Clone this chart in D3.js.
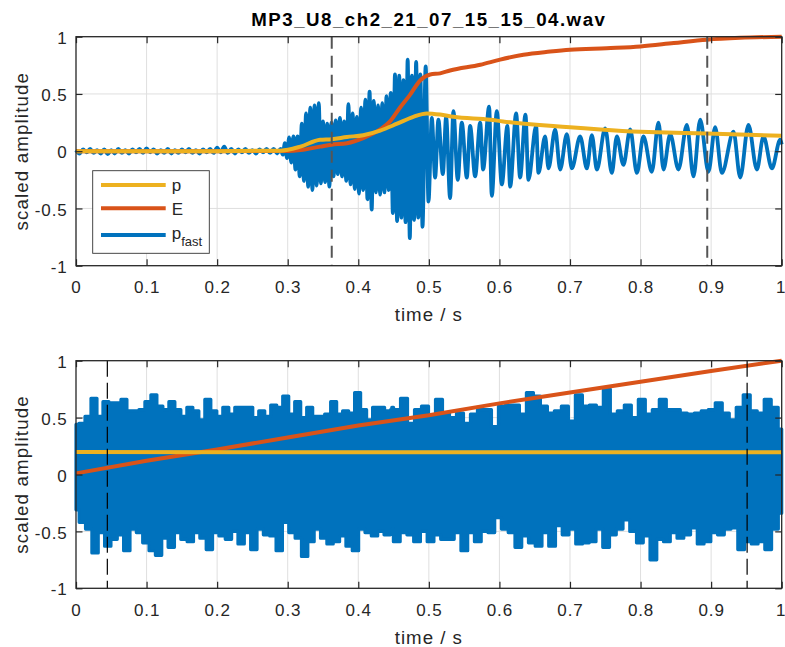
<!DOCTYPE html>
<html><head><meta charset="utf-8">
<script src="https://cdn.jsdelivr.net/npm/d3@7/dist/d3.min.js"></script>
<style>
html,body{margin:0;padding:0;background:#fff;}
svg{display:block;font-family:"Liberation Sans",Arial,Helvetica,sans-serif;}
</style></head><body>
<svg id="chart" width="785" height="647"></svg>
<script>
// ---------------- DATA ----------------
const titleText = "MP3_U8_ch2_21_07_15_15_04.wav";
const xLabelText = "time / s";
const yLabelText = "scaled amplitude";
const xTicks = [0, 0.1, 0.2, 0.3, 0.4, 0.5, 0.6, 0.7, 0.8, 0.9, 1];
const xTickLabels = ["0", "0.1", "0.2", "0.3", "0.4", "0.5", "0.6", "0.7", "0.8", "0.9", "1"];
const yTicks = [-1, -0.5, 0, 0.5, 1];
const yTickLabels = ["-1", "-0.5", "0", "0.5", "1"];
const legendNames = ["p", "E", "p_fast"];

// Top panel: p_fast, quiet part (sample step 0.005 s from 0)
const topNoiseStart = 0, topNoiseStep = 0.005;
const topNoiseV = [0.01,-0.02,0.015,-0.01,0.02,-0.015,0.01,-0.02,0.015,-0.025,
  0.01,-0.02,0.02,-0.015,0.01,-0.02,0.015,-0.01,0.02,-0.015,
  0.025,-0.01,0.015,-0.02,0.01,-0.015,0.02,-0.02,0.01,-0.015,
  0.015,-0.01,0.02,-0.015,0.01,-0.02,0.015,-0.01,0.02,-0.015,
  0.03,-0.01,0.04,-0.015,0.02,-0.02,0.015,-0.01,0.02,-0.015,
  0.01,-0.02,0.015,-0.01,0.02,-0.015,0.02,-0.02];
// Top panel: p_fast, burst extrema (step 0.003 s from 0.29 s)
const topBurstStart = 0.29, topBurstStep = 0.003;
const topBurstV = [0.02,-0.03,0.07,-0.06,0.12,-0.10,0.13,-0.16,0.13,-0.22,
  0.24,-0.26,0.33,-0.31,0.38,-0.34,0.40,-0.30,0.42,-0.28,
  0.26,-0.27,0.24,-0.31,0.25,-0.22,0.27,-0.20,0.29,-0.22,
  0.26,-0.26,0.41,-0.29,0.33,-0.33,0.30,-0.37,0.38,-0.34,
  0.45,-0.42,0.52,-0.51,0.44,-0.36,0.40,-0.38,0.42,-0.36,
  0.48,-0.34,0.51,-0.54,0.67,-0.61,0.66,-0.58,0.62,-0.62,
  0.80,-0.76,0.66,-0.60,0.78,-0.58,0.67,-0.66];
// Top panel: p_fast, decaying oscillation extrema
const topTailT = [0.4955,0.4995,0.5042,0.5089,0.5135,0.5198,0.5245,0.5301,0.5348,0.5410,
  0.5467,0.5538,0.5585,0.5656,0.5727,0.5769,0.5854,0.5892,0.5963,0.6034,
  0.6113,0.6152,0.6237,0.6293,0.6369,0.6411,0.6520,0.6553,0.6648,0.6695,
  0.6790,0.6861,0.6955,0.7026,0.7144,0.7239,0.7310,0.7381,0.7498,0.7593,
  0.7664,0.7757,0.7853,0.7948,0.8041,0.8160,0.8254,0.8325,0.8420,0.8537,
  0.8656,0.8750,0.8845,0.8962,0.9057,0.9152,0.9317,0.9412,0.9529,0.9648,
  0.9742,0.9861,0.9979,1.0];
const topTailV = [0.74,-0.44,0.29,-0.23,0.275,-0.20,0.30,-0.41,0.35,-0.25,
  0.25,-0.23,0.22,-0.22,0.25,-0.16,0.39,-0.39,0.35,-0.29,
  0.22,-0.31,0.33,-0.23,0.32,-0.25,0.22,-0.19,0.13,-0.15,
  0.19,-0.16,0.15,-0.15,0.13,-0.15,0.14,-0.16,0.20,-0.19,
  0.13,-0.12,0.19,-0.19,0.13,-0.18,0.25,-0.16,0.15,-0.16,
  0.23,-0.22,0.275,-0.18,0.21,-0.19,0.17,-0.23,0.23,-0.16,
  0.13,-0.15,0.10,0.06];
// Top panel: p (slow) and E
const topPT = [0,0.1,0.2,0.29,0.318,0.346,0.362,0.384,0.407,0.431,0.455,0.478,0.497,0.516,0.535,0.587,0.605,0.676,0.70,0.743,0.80,0.823,0.894,1.0];
const topPV = [0,0,0,0.005,0.04,0.10,0.105,0.124,0.14,0.18,0.24,0.30,0.33,0.32,0.30,0.275,0.26,0.22,0.21,0.19,0.17,0.165,0.155,0.135];
const topET = [0,0.2,0.3,0.318,0.346,0.362,0.384,0.407,0.431,0.445,0.459,0.473,0.488,0.502,0.516,0.530,0.573,0.601,0.634,0.672,0.70,0.752,0.80,0.847,0.894,0.941,1.0];
const topEV = [0,0,0.002,0.01,0.04,0.057,0.07,0.115,0.19,0.26,0.38,0.49,0.62,0.67,0.68,0.705,0.755,0.80,0.843,0.87,0.886,0.90,0.915,0.945,0.974,0.99,1.0];
const topMarks = [0.3624, 0.8945];

// Bottom panel: p_fast envelope (upper / lower extremes), two segments each
const botUpperA = {t0:0, t1:0.45, v:[0.44,0.45,0.51,0.67,0.51,0.64,0.63,0.63,0.66,0.56,
  0.56,0.57,0.64,0.70,0.60,0.57,0.64,0.57,0.51,0.59,
  0.56,0.48,0.66,0.56,0.51,0.59,0.53,0.59,0.59,0.59,
  0.50,0.56,0.51,0.61,0.59,0.69,0.53,0.64,0.50,0.59,
  0.51,0.51,0.53,0.64,0.53,0.56,0.54,0.72,0.57,0.48,
  0.59,0.59,0.56,0.57]};
const botUpperB = {t0:0.445, t1:1.0, v:[0.59,0.57,0.67,0.45,0.57,0.60,0.50,0.66,0.54,0.50,
  0.54,0.45,0.53,0.57,0.57,0.42,0.60,0.61,0.61,0.53,
  0.72,0.69,0.60,0.54,0.56,0.60,0.47,0.70,0.60,0.61,
  0.59,0.75,0.53,0.56,0.61,0.50,0.66,0.53,0.57,0.66,
  0.57,0.57,0.54,0.53,0.54,0.56,0.57,0.63,0.54,0.48,
  0.59,0.70,0.56,0.54,0.66,0.59,0.40]};
const botLowerA = {t0:0, t1:0.45, v:[-0.31,-0.42,-0.48,-0.69,-0.51,-0.63,-0.57,-0.53,-0.67,-0.48,
  -0.51,-0.60,-0.67,-0.71,-0.56,-0.64,-0.51,-0.57,-0.59,-0.51,
  -0.56,-0.66,-0.51,-0.54,-0.57,-0.50,-0.61,-0.51,-0.66,-0.48,
  -0.53,-0.54,-0.67,-0.42,-0.51,-0.56,-0.72,-0.59,-0.48,-0.56,
  -0.61,-0.59,-0.54,-0.63,-0.67,-0.48,-0.51,-0.54,-0.50,-0.53,
  -0.51]};
const botLowerB = {t0:0.445, t1:1.0, v:[-0.48,-0.59,-0.51,-0.53,-0.59,-0.50,-0.59,-0.53,-0.57,-0.57,
  -0.51,-0.67,-0.51,-0.59,-0.50,-0.51,-0.38,-0.48,-0.51,-0.64,
  -0.54,-0.60,-0.63,-0.51,-0.63,-0.45,-0.53,-0.48,-0.61,-0.60,
  -0.59,-0.48,-0.64,-0.53,-0.48,-0.40,-0.50,-0.60,-0.54,-0.75,
  -0.57,-0.59,-0.51,-0.56,-0.53,-0.47,-0.61,-0.59,-0.51,-0.53,
  -0.48,-0.47,-0.66,-0.59,-0.61,-0.59,-0.66,-0.48,-0.34]};
const botPT = [0, 0.25, 0.5, 0.75, 1];
const botPV = [0.197, 0.196, 0.195, 0.195, 0.195];
const botET = [0, 0.1, 0.2, 0.3, 0.4, 0.5, 0.6, 0.7, 0.8, 0.9, 1.0];
const botEV = [0.01, 0.12, 0.22, 0.325, 0.43, 0.52, 0.625, 0.72, 0.815, 0.91, 1.0];
const botMarks = [0.0444, 0.951];

// ---------------- DRAWING ----------------
const C = {blue:"#0072BD", orange:"#D95319", yellow:"#EDB120", axis:"#262626", grid:"#dfdfdf"};
const svg = d3.select("#chart");
const L = 76, R = 781.7;

const uniform = (t0, dt, vals) => vals.map((v, i) => [t0 + i * dt, v]);
const spanned = (seg) => seg.v.map((v, i) => [seg.t0 + i * (seg.t1 - seg.t0) / (seg.v.length - 1), v]);
const zipTV = (T, V) => T.map((t, i) => [t, V[i]]);

function panel(top, bottom, opts) {
  const x = d3.scaleLinear().domain([0, 1]).range([L, R]);
  const y = d3.scaleLinear().domain([-1, 1]).range([bottom, top]);
  const g = svg.append("g");

  // grid
  g.append("g").selectAll("line").data(xTicks.slice(1, -1)).join("line")
    .attr("x1", d => x(d)).attr("x2", d => x(d)).attr("y1", top).attr("y2", bottom)
    .attr("stroke", C.grid).attr("stroke-width", 1);
  g.append("g").selectAll("line").data(yTicks.slice(1, -1)).join("line")
    .attr("y1", d => y(d)).attr("y2", d => y(d)).attr("x1", L).attr("x2", R)
    .attr("stroke", C.grid).attr("stroke-width", 1);

  const line = d3.line().x(d => x(d[0])).y(d => y(d[1]));
  opts.draw(g, x, y, line);

  // dashed markers
  g.append("g").selectAll("line").data(opts.marks).join("line")
    .attr("x1", d => x(d)).attr("x2", d => x(d)).attr("y1", top).attr("y2", bottom)
    .attr("stroke", opts.markColor).attr("stroke-width", opts.markWidth)
    .attr("stroke-dasharray", opts.markDash);

  // axes (ticks inside, on all four sides)
  const fmtX = (d, i) => xTickLabels[i];
  const fmtY = (d, i) => yTickLabels[i];
  const ax = g.append("g").attr("transform", `translate(0,${bottom})`)
    .call(d3.axisBottom(x).tickValues(xTicks).tickFormat(fmtX).tickSize(-6.5).tickPadding(15.2));
  g.append("g").attr("transform", `translate(0,${top})`)
    .call(d3.axisTop(x).tickValues(xTicks).tickFormat("").tickSize(-6.5));
  const ay = g.append("g").attr("transform", `translate(${L},0)`)
    .call(d3.axisLeft(y).tickValues(yTicks).tickFormat(fmtY).tickSize(-6.5).tickPadding(8));
  g.append("g").attr("transform", `translate(${R},0)`)
    .call(d3.axisRight(y).tickValues(yTicks).tickFormat("").tickSize(-6.5));
  g.selectAll(".domain").remove();
  g.selectAll(".tick line").attr("stroke", C.axis).attr("stroke-width", 1.2);
  g.selectAll(".tick text").attr("fill", C.axis).attr("font-size", 17)
    .attr("font-family", '"Liberation Sans",Arial,sans-serif').attr("letter-spacing", 0.9);
  ay.selectAll(".tick text").attr("dy", "0.39em").attr("x", -8.3);
  // keep the last x label inside the page
  ax.selectAll(".tick text").filter((d, i) => i === xTicks.length - 1)
    .attr("letter-spacing", 0).attr("text-anchor", "end").attr("x", 3.2);
  g.append("rect").attr("x", L).attr("y", top).attr("width", R - L).attr("height", bottom - top)
    .attr("fill", "none").attr("stroke", C.axis).attr("stroke-width", 1.3);

  // axis labels
  g.append("text").attr("x", (L + R) / 2).attr("y", bottom + 55.5).attr("text-anchor", "middle")
    .attr("font-size", 18.7).attr("letter-spacing", 1).attr("fill", C.axis).text(xLabelText);
  g.append("text").attr("transform", `translate(28.4,${(top + bottom) / 2}) rotate(-90)`)
    .attr("text-anchor", "middle").attr("font-size", 18.7).attr("letter-spacing", 1.15)
    .attr("fill", C.axis).text(yLabelText);
  return {x, y, g};
}

// Top panel
panel(36.7, 265.7, {
  marks: topMarks, markColor: "#555555", markWidth: 2, markDash: "12 7",
  draw: (g, x, y, line) => {
    const blue = [].concat(uniform(topNoiseStart, topNoiseStep, topNoiseV),
                           uniform(topBurstStart, topBurstStep, topBurstV),
                           zipTV(topTailT, topTailV));
    g.append("path").datum(blue).attr("d", line.curve(d3.curveMonotoneX))
      .attr("fill", "none").attr("stroke", C.blue).attr("stroke-width", 3.8).attr("stroke-linejoin", "round");
    g.append("path").datum(zipTV(topET, topEV)).attr("d", line.curve(d3.curveMonotoneX))
      .attr("fill", "none").attr("stroke", C.orange).attr("stroke-width", 4);
    g.append("path").datum(zipTV(topPT, topPV)).attr("d", line.curve(d3.curveMonotoneX))
      .attr("fill", "none").attr("stroke", C.yellow).attr("stroke-width", 4);
  }
});

// Bottom panel
panel(360.7, 588.3, {
  marks: botMarks, markColor: "#000000", markWidth: 1.2, markDash: "16 6",
  draw: (g, x, y, line) => {
    const upper = spanned(botUpperA).concat(spanned(botUpperB));
    const lower = spanned(botLowerA).concat(spanned(botLowerB));
    const upPath = d3.line().x(d => x(d[0])).y(d => y(d[1])).curve(d3.curveStep)(upper);
    const loPts = lower.slice().reverse();
    const loPath = d3.line().x(d => x(d[0])).y(d => y(d[1])).curve(d3.curveStep)(loPts);
    const full = upPath + "L" + loPath.slice(1) + "Z";
    g.append("path").attr("d", full)
      .attr("fill", C.blue).attr("stroke", C.blue).attr("stroke-width", 3.2).attr("stroke-linejoin", "round");
    g.append("path").datum(zipTV(botET, botEV)).attr("d", line.curve(d3.curveLinear))
      .attr("fill", "none").attr("stroke", C.orange).attr("stroke-width", 4);
    g.append("path").datum(zipTV(botPT, botPV)).attr("d", line.curve(d3.curveLinear))
      .attr("fill", "none").attr("stroke", C.yellow).attr("stroke-width", 4);
  }
});

// Title
svg.append("text").attr("x", (L + R) / 2).attr("y", 26).attr("text-anchor", "middle")
  .attr("font-size", 18.7).attr("font-weight", "bold").attr("letter-spacing", 1.5)
  .attr("fill", "#000").text(titleText);

// Legend (top panel)
const leg = svg.append("g");
leg.append("rect").attr("x", 92.7).attr("y", 170.7).attr("width", 116.6).attr("height", 82.6)
  .attr("fill", "#fff").attr("stroke", "#333").attr("stroke-width", 0.9);
const legColors = [C.yellow, C.orange, C.blue];
const legY = [185, 208.3, 235];
legendNames.forEach((name, i) => {
  leg.append("line").attr("x1", 101).attr("x2", 165.7).attr("y1", legY[i]).attr("y2", legY[i])
    .attr("stroke", legColors[i]).attr("stroke-width", 4);
  const parts = name.split("_");
  const t = leg.append("text").attr("x", 171.7).attr("y", legY[i] + (parts.length > 1 ? 4 : 6.2))
    .attr("font-size", 17).attr("fill", C.axis).text(parts[0]);
  if (parts.length > 1) {
    t.append("tspan").attr("dy", 7).attr("font-size", 13).text(parts[1]);
  }
});
</script>
</body></html>
